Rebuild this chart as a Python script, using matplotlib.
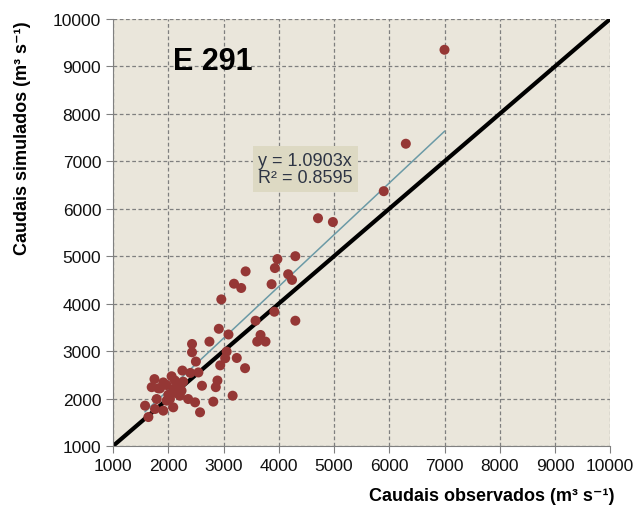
import numpy as np
import matplotlib
matplotlib.use("Agg")
import matplotlib.pyplot as plt

plt.rcParams['font.family'] = ['Liberation Sans', 'DejaVu Sans']

obs = [7000, 6300, 5900, 4710, 4980,
       3975, 4300, 3930, 3400, 4170, 4240, 3190, 3320, 3870, 2960, 3920,
       3580, 4300, 2915, 3090, 3670, 3610, 3760, 2745,
       2430, 2430, 3057, 3240, 3030, 2500, 2545, 2940, 3390, 2255, 2400,
       2890, 2860, 2610, 3165, 2815,
       1750, 2060, 2120, 2270, 1910, 1700, 1850, 2090, 2240, 2000, 2210,
       1790, 1970, 2360, 2485, 1580, 1760, 2090, 1910, 2575, 1640,
       1820, 1970, 2210, 2030, 2130]
sim = [9350, 7370, 6370, 5800, 5720,
       4940, 5000, 4750, 4680, 4620, 4500, 4420, 4330, 4410, 4090, 3830,
       3640, 3640, 3470, 3350, 3340, 3200, 3200, 3200,
       3150, 2975, 2990, 2855, 2850, 2780, 2550, 2700, 2640, 2590, 2540,
       2380, 2240, 2270, 2060, 1935,
       2410, 2470, 2380, 2355, 2340, 2240, 2215, 2200, 2165, 2080, 2060,
       1990, 1955, 1990, 1920, 1850, 1780, 1815, 1745, 1710, 1610,
       2215, 2285, 2260, 1990, 2120]

slope = 1.0903
r2 = 0.8595
ticks = [1000, 2000, 3000, 4000, 5000, 6000, 7000, 8000, 9000, 10000]

fig = plt.figure(figsize=(6.35, 5.06), dpi=100)
ax = fig.add_axes([0.178, 0.1166, 0.783, 0.844])
ax.set_facecolor('#EAE6DB')

ax.grid(True, color='#7F7F7F', linestyle=(0, (3, 2)), linewidth=0.9)
ax.set_axisbelow(True)

# 1:1 line
ax.plot([1000, 10000], [1000, 10000], color='black', lw=3.0, zorder=2)

# linear trend through origin
xt = np.array([min(obs), max(obs)])
ax.plot(xt, slope * xt, color='#6B9AA6', lw=1.1, zorder=2)

ax.scatter(obs, sim, s=52, color='#953735', edgecolors='none', zorder=3)

ax.set_xlim(1000, 10000)
ax.set_ylim(1000, 10000)
ax.set_xticks(ticks)
ax.set_yticks(ticks)
ax.tick_params(direction='out', length=5, color='#808080', labelsize=12.5,
               labelcolor='#111111')
for s in ['top', 'right']:
    ax.spines[s].set_visible(False)
for s in ['left', 'bottom']:
    ax.spines[s].set_color('#808080')

ax.text(2090, 9120, 'E 291', fontsize=22, fontweight='bold', va='center', ha='left')

ax.text(3630, 6840, 'y = 1.0903x\nR² = 0.8595'.replace('0.8595', f'{r2:.4f}'),
        fontsize=13, color='#2E3545', va='center', ha='left', linespacing=1.05,
        bbox=dict(boxstyle='square,pad=0.3', facecolor='#DDD9C3', edgecolor='none'))

fig.text(0.775, 0.018, 'Caudais observados (m³ s⁻¹)', fontsize=13,
         fontweight='bold', ha='center', va='center')
fig.text(0.035, 0.727, 'Caudais simulados (m³ s⁻¹)', fontsize=13,
         fontweight='bold', ha='center', va='center', rotation=90)

fig.savefig('out.png', dpi=100, facecolor='white')
